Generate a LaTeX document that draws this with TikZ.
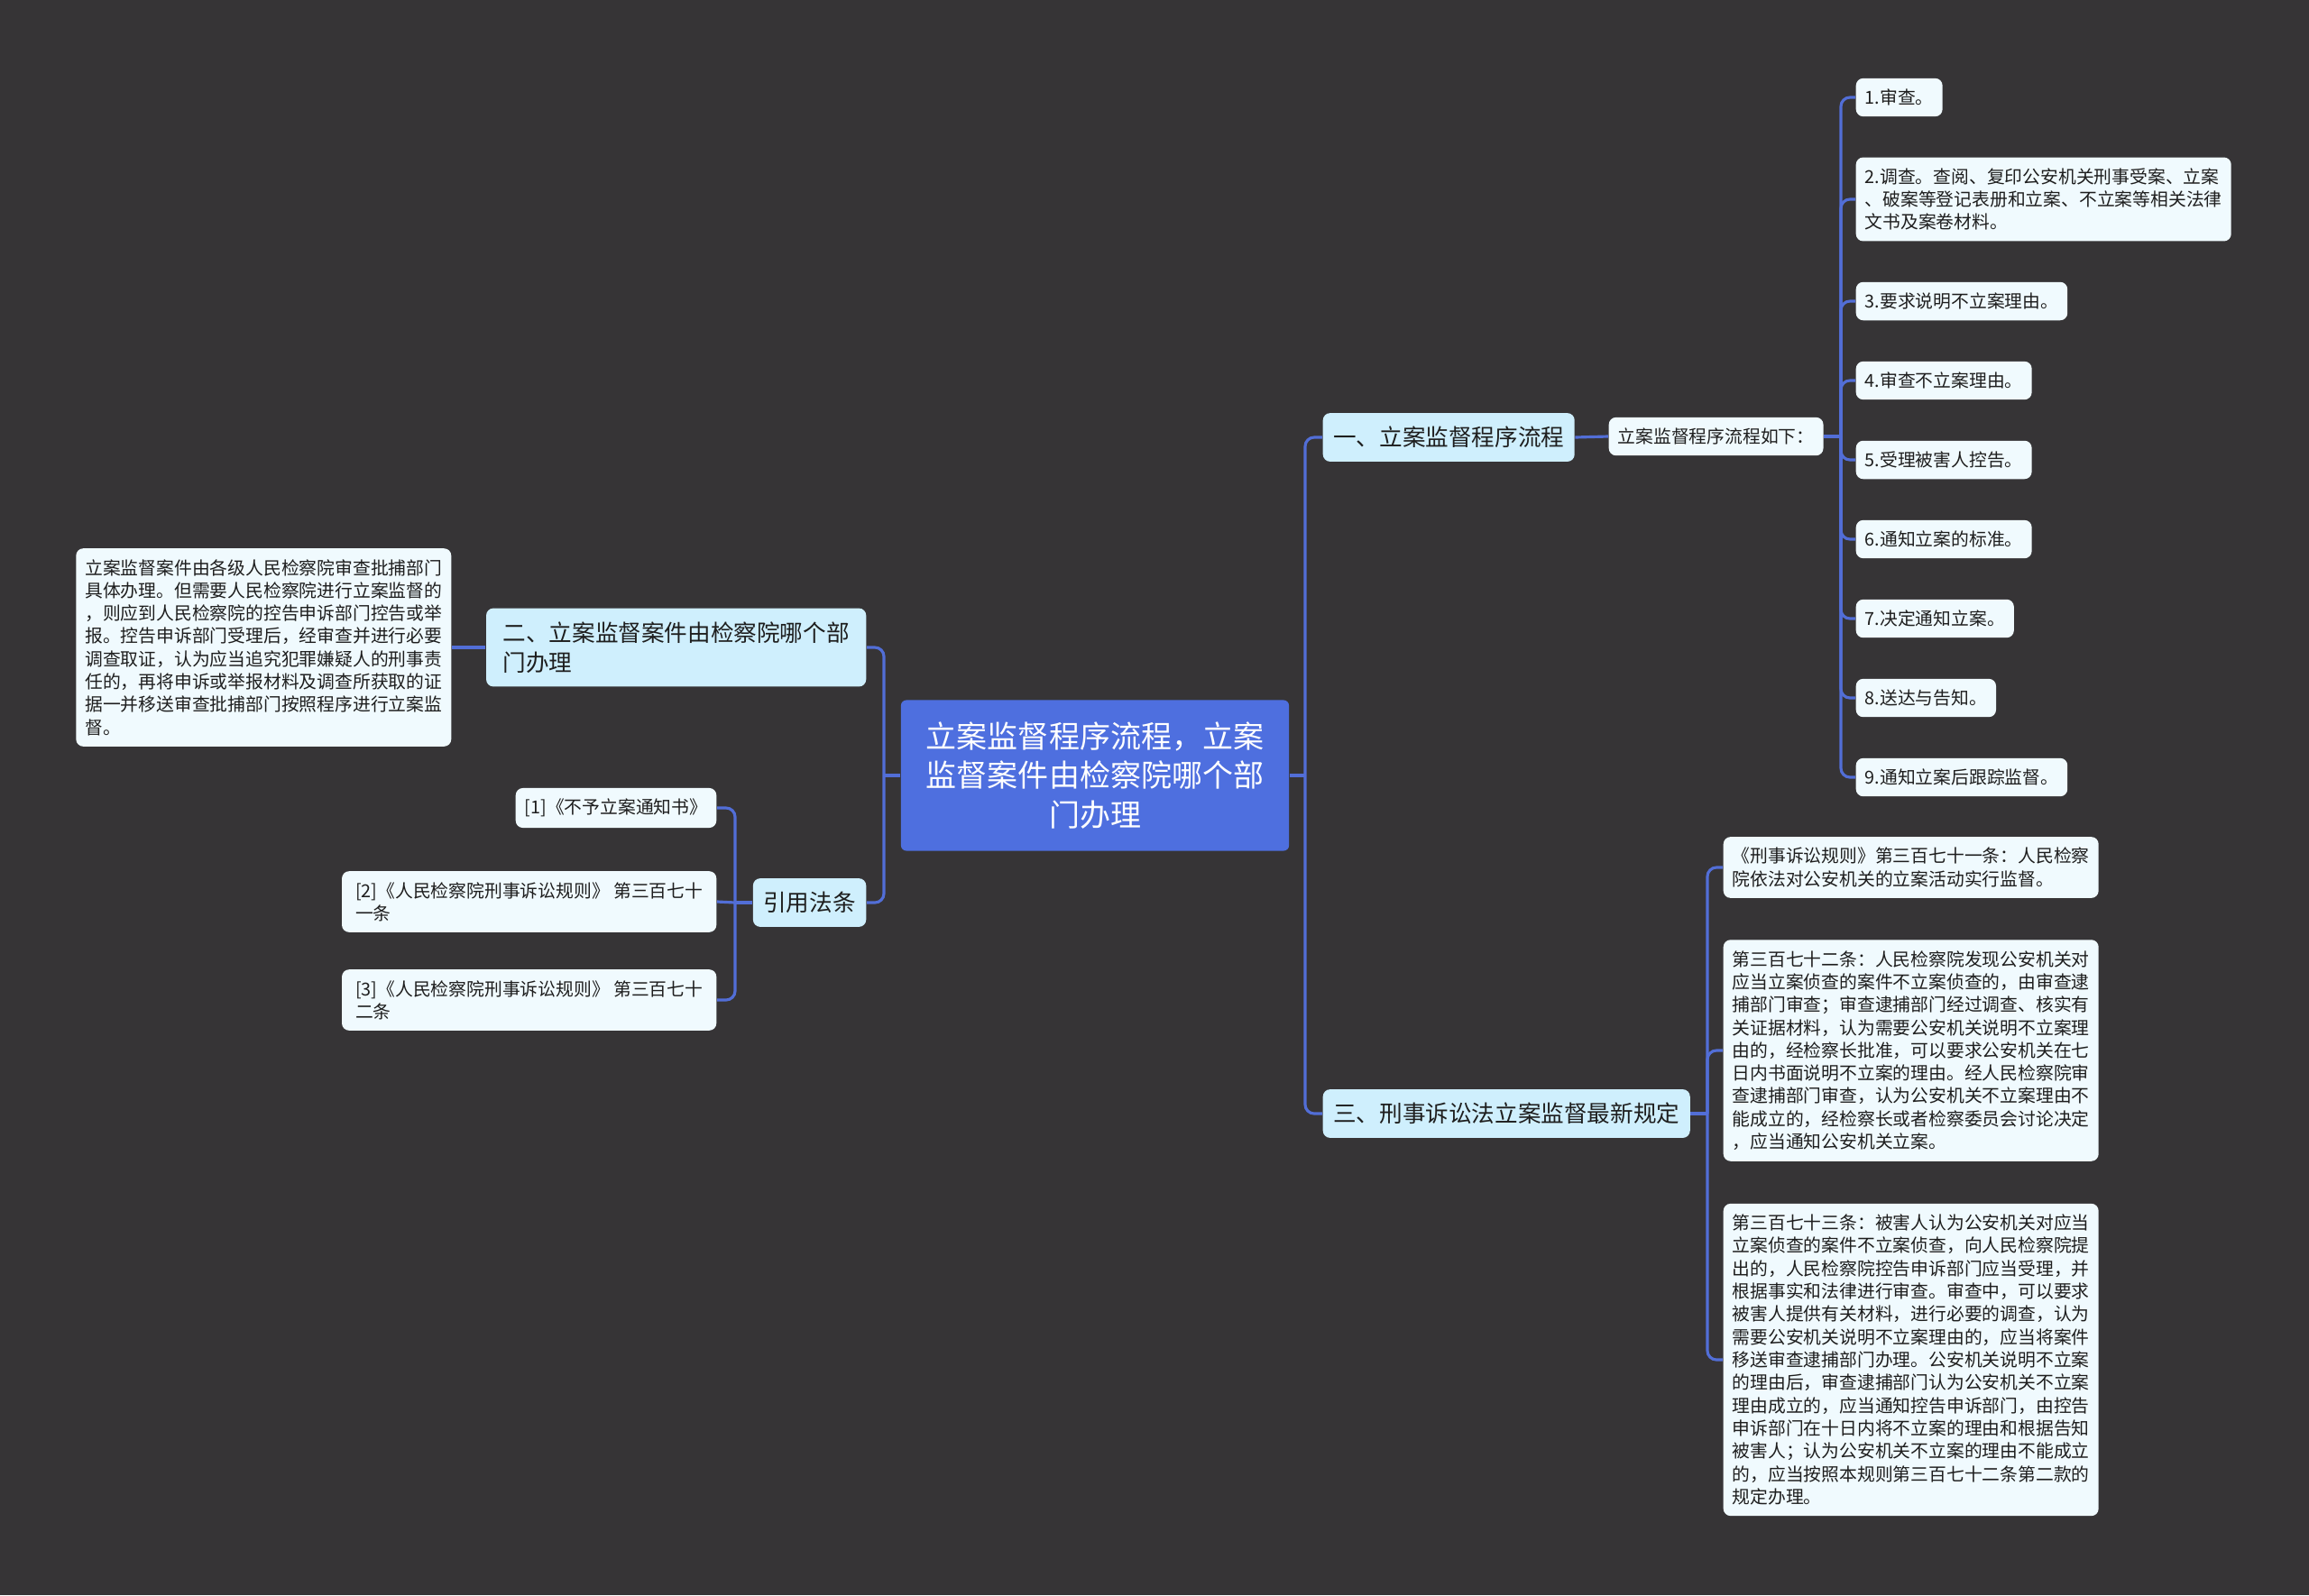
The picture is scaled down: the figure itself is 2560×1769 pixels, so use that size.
\documentclass[tikz,border=0pt]{standalone}
\usepackage{fontspec}
\setmainfont{Noto Sans CJK SC}
\definecolor{bgdark}{RGB}{54,52,54}
\definecolor{rootblue}{RGB}{78,111,223}
\definecolor{linkblue}{RGB}{82,110,215}
\definecolor{topicblue}{RGB}{207,239,253}
\definecolor{leafwhite}{RGB}{240,250,254}
\definecolor{ink}{RGB}{30,30,30}
\newcommand\rootfont{\fontsize{9.67pt}{12.32pt}\selectfont}
\newcommand\topicfont{\fontsize{7.28pt}{9.39pt}\selectfont}
\newcommand\leaffont{\fontsize{5.63pt}{7.2pt}\selectfont}
\tikzset{
  root/.style={fill=rootblue, text=white, rounded corners=0.06cm, font=\rootfont,
    align=center, minimum width=4.3cm, minimum height=1.67cm, inner sep=0},
  topic/.style={fill=topicblue, text=ink, rounded corners=0.08cm, font=\topicfont,
    align=left, inner xsep=0.115cm, inner ysep=0.15cm},
  leaf/.style={fill=leafwhite, text=ink, rounded corners=0.08cm, font=\leaffont,
    align=left, inner xsep=0.1cm, inner ysep=0.12cm},
  link/.style={draw=linkblue, line width=0.9pt, rounded corners=0.1cm},
}
\begin{document}
\begin{tikzpicture}[x=0.01cm,y=-0.01cm]
\fill[bgdark] (0,0) rectangle (2560,1769);
\useasboundingbox (0,0) rectangle (2560,1769);

% centre
\node[root] (root) at (1214,860) {立案监督程序流程，立案\\监督案件由检察院哪个部\\门办理};

% right side
\node[topic,anchor=west] (t1) at (1466,485) {一、立案监督程序流程};
\node[leaf,anchor=west] (t1a) at (1783,484) {立案监督程序流程如下：};
\node[leaf,anchor=west] (s2) at (2057,221) {2.调查。查阅、复印公安机关刑事受案、立案\\、破案等登记表册和立案、不立案等相关法律\\文书及案卷材料。};
\foreach \i/\y/\txt in {1/108/1.审查。, 3/334/3.要求说明不立案理由。, 4/422/4.审查不立案理由。,
    5/510/5.受理被害人控告。, 6/598/6.通知立案的标准。, 7/686/7.决定通知立案。,
    8/774/8.送达与告知。, 9/862/9.通知立案后跟踪监督。}
  \node[leaf,anchor=west] (s\i) at (2057,\y) {\txt};

\node[topic,anchor=west] (t3) at (1466,1235) {三、刑事诉讼法立案监督最新规定};
\node[leaf,anchor=west] (la) at (1910,962) {《刑事诉讼规则》第三百七十一条：人民检察\\院依法对公安机关的立案活动实行监督。};
\node[leaf,anchor=west] (lb) at (1910,1165) {第三百七十二条：人民检察院发现公安机关对\\应当立案侦查的案件不立案侦查的，由审查逮\\捕部门审查；审查逮捕部门经过调查、核实有\\关证据材料，认为需要公安机关说明不立案理\\由的，经检察长批准，可以要求公安机关在七\\日内书面说明不立案的理由。经人民检察院审\\查逮捕部门审查，认为公安机关不立案理由不\\能成立的，经检察长或者检察委员会讨论决定\\，应当通知公安机关立案。};
\node[leaf,anchor=west] (lc) at (1910,1508) {第三百七十三条：被害人认为公安机关对应当\\立案侦查的案件不立案侦查，向人民检察院提\\出的，人民检察院控告申诉部门应当受理，并\\根据事实和法律进行审查。审查中，可以要求\\被害人提供有关材料，进行必要的调查，认为\\需要公安机关说明不立案理由的，应当将案件\\移送审查逮捕部门办理。公安机关说明不立案\\的理由后，审查逮捕部门认为公安机关不立案\\理由成立的，应当通知控告申诉部门，由控告\\申诉部门在十日内将不立案的理由和根据告知\\被害人；认为公安机关不立案的理由不能成立\\的，应当按照本规则第三百七十二条第二款的\\规定办理。};

% left side
\node[topic,anchor=east,minimum width=4.21cm] (t2) at (961,718) {二、立案监督案件由检察院哪个部\\门办理};
\node[leaf,anchor=east] (t2a) at (501,718) {立案监督案件由各级人民检察院审查批捕部门\\具体办理。但需要人民检察院进行立案监督的\\，则应到人民检察院的控告申诉部门控告或举\\报。控告申诉部门受理后，经审查并进行必要\\调查取证，认为应当追究犯罪嫌疑人的刑事责\\任的，再将申诉或举报材料及调查所获取的证\\据一并移送审查批捕部门按照程序进行立案监\\督。};
\node[topic,anchor=east] (t4) at (961,1001) {引用法条};
\node[leaf,anchor=east] (r1) at (795,896) {[1]《不予立案通知书》};
\node[leaf,anchor=east,minimum width=4.15cm] (r2) at (795,1000) {[2]《人民检察院刑事诉讼规则》 第三百七十\\一条};
\node[leaf,anchor=east,minimum width=4.15cm] (r3) at (795,1109) {[3]《人民检察院刑事诉讼规则》 第三百七十\\二条};

% connectors
\coordinate (jr) at (1447,860);
\coordinate (jl) at (980,860);
\coordinate (j1) at (2041,484);
\coordinate (j3) at (1893,1235);
\coordinate (j4) at (815,1001);
\draw[link] (root.east) -- (jr);
\draw[link] (jr) |- (t1.west);
\draw[link] (jr) |- (t3.west);
\draw[link] (root.west) -- (jl);
\draw[link] (jl) |- (t2.east);
\draw[link] (jl) |- (t4.east);
\draw[link] (t1.east) -- (t1a.west);
\draw[link] (t1a.east) -- (j1);
\foreach \i in {1,...,9}
  \draw[link] (j1) |- (s\i.west);
\draw[link] (t3.east) -- (j3);
\draw[link] (j3) |- (la.west);
\draw[link] (j3) |- (lb.west);
\draw[link] (j3) |- (lc.west);
\draw[link] (t2.west) -- (t2a.east);
\draw[link] (t4.west) -- (j4);
\draw[link] (j4) |- (r1.east);
\draw[link] (j4) -- (r2.east);
\draw[link] (j4) |- (r3.east);
\end{tikzpicture}
\end{document}
